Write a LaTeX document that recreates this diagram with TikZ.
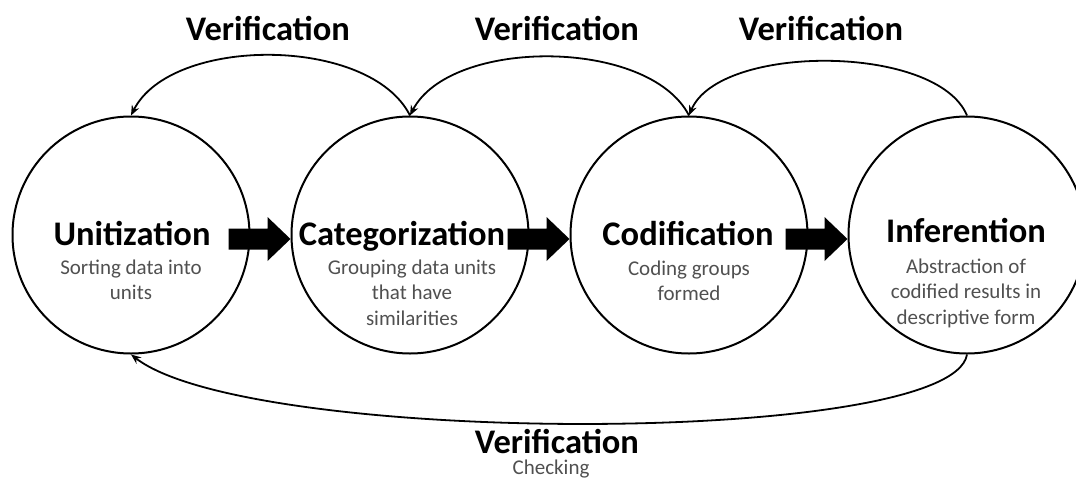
\documentclass[tikz,border=0pt]{standalone}
\usepackage{fontspec}
\setmainfont{Carlito}
\usetikzlibrary{arrows.meta,calc}
\definecolor{subgray}{RGB}{80,80,80}
\newcommand{\subl}[1]{\begin{tabular}[t]{@{}c@{}}#1\end{tabular}}
\begin{document}
\begin{tikzpicture}[x=1pt,y=-1pt,
  circ/.style={circle,draw,line width=2pt,minimum size=237pt,inner sep=0pt},
  ttl/.style={font=\fontsize{34.5}{38}\selectfont\bfseries,anchor=base,inner sep=0pt},
  subt/.style={font=\fontsize{21}{25.5}\selectfont,text=subgray,anchor=base,inner sep=0pt},
  verif/.style={-{Stealth[length=10pt,width=8pt]},line width=1.8pt},
  blockarr/.style={fill=black},
]
\useasboundingbox (0,0) rectangle (1076,479);
\node[circ] (c1) at (131,235) {};
\node[circ] (c2) at (410,235) {};
\node[circ] (c3) at (689,235) {};
\node[circ] (c4) at (967,235) {};

\node[ttl] (t1) at (132,245) {Unitization};
\node[subt] (s1) at (131,274) {\subl{Sorting data into\\units}};
\node[ttl] (t2) at (402,245) {Categorization};
\node[subt] (s2) at (412,274) {\subl{Grouping data units\\that have\\similarities}};
\node[ttl] (t3) at (688,245) {Codification};
\node[subt] (s3) at (689,275) {\subl{Coding groups\\formed}};
\node[ttl] (t4) at (966,242) {Inferention};
\node[subt] (s4) at (966,273) {\subl{Abstraction of\\codified results in\\descriptive form}};

\foreach \a/\b in {c1/c2,c2/c3,c3/c4}{
  \fill[blockarr] ($(\b.west)+(0,4)$) -- ++(-23,-22) -- ++(0,11.5) -- ++(-39,0)
     -- ++(0,21) -- ++(39,0) -- ++(0,11.5) -- cycle;
}

\draw[verif] (c2.north) .. controls +(-40,-80) and +(40,-80) .. (c1.north);
\draw[verif] (c3.north) .. controls +(-40,-78) and +(40,-78) .. (c2.north);
\draw[verif] (c4.north) .. controls +(-30,-72) and +(30,-72) .. (c3.north);
\draw[verif] (c4.south) .. controls +(-15,92) and +(119,92) .. (c1.south);

\node[ttl] (v1) at (268,40) {Verification};
\node[ttl] (v2) at (557,40) {Verification};
\node[ttl] (v3) at (821,40) {Verification};
\node[ttl] (v4) at (557,453) {Verification};
\node[subt] (ck) at (551,474) {Checking};
\end{tikzpicture}
\end{document}
